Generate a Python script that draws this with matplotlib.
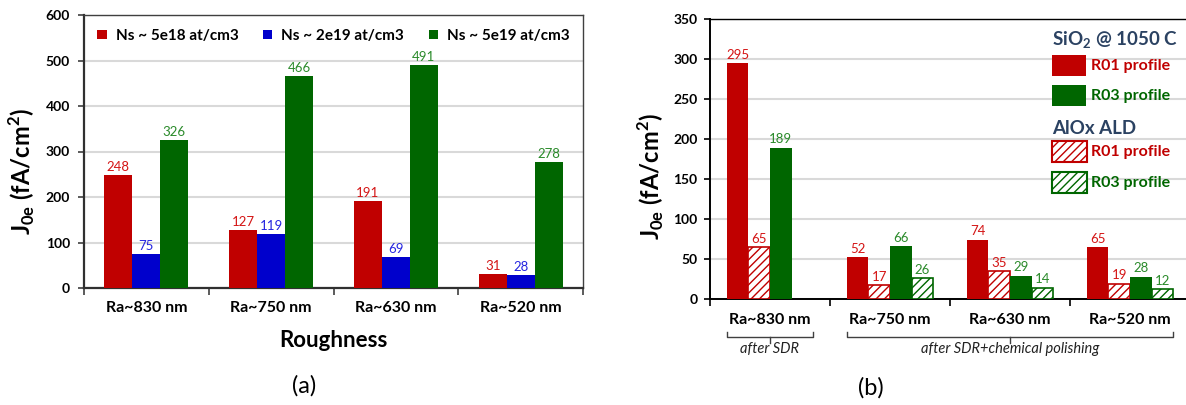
import numpy as np
import matplotlib
matplotlib.use('Agg')
import matplotlib.pyplot as plt
import matplotlib.transforms as mtransforms
from matplotlib.patches import Rectangle

plt.rcParams['font.family'] = ['Lato', 'DejaVu Sans']
plt.rcParams['mathtext.fontset'] = 'custom'
plt.rcParams['mathtext.bf'] = 'Lato:bold'
plt.rcParams['mathtext.rm'] = 'Lato'
plt.rcParams['hatch.linewidth'] = 1.0

roughness = ['Ra~830 nm', 'Ra~750 nm', 'Ra~630 nm', 'Ra~520 nm']

# (a) J0e vs surface doping
ns_labels = ['Ns ~ 5e18 at/cm3', 'Ns ~ 2e19 at/cm3', 'Ns ~ 5e19 at/cm3']
ns_5e18 = [248, 127, 191, 31]
ns_2e19 = [75, 119, 69, 28]
ns_5e19 = [326, 466, 491, 278]

# (b) SiO2 vs AlOx passivation
sio2_r01 = [295, 52, 74, 65]
alox_r01 = [65, 17, 35, 19]
sio2_r03 = [189, 66, 29, 28]
alox_r03 = [np.nan, 26, 14, 12]

RED = '#C00000'
BLUE = '#0000CC'
GREEN = '#006600'
GRID = '#D9D9D9'

W, H = 1186, 405


def px(x, y):
    return x / W, 1 - y / H


fig = plt.figure(figsize=(W / 100, H / 100), dpi=100)
ylab = r'J$_{\mathbf{0e}}$ (fA/cm$^{\mathbf{2}}$)'

# ---------------- panel (a) ----------------
ax1 = fig.add_axes([84 / W, 1 - 288 / H, 499 / W, 273 / H])
x = np.arange(len(roughness))
w = 0.224
series_a = [ns_5e18, ns_2e19, ns_5e19]
cols_a = [RED, BLUE, GREEN]
txt_a = ['#D41515', '#2424E0', '#2A8A2A']
for i in range(3):
    bars = ax1.bar(x + (i - 1) * w, series_a[i], w, color=cols_a[i],
                   label=ns_labels[i], zorder=3, linewidth=0)
    for b, v in zip(bars, series_a[i]):
        ax1.text(b.get_x() + b.get_width() / 2, v + 4, str(v), ha='center',
                 va='bottom', color=txt_a[i], fontsize=9.5)

ax1.set_ylim(0, 600)
ax1.set_yticks(np.arange(0, 601, 100))
ax1.set_xlim(-0.5, 3.5)
ax1.set_xticks(np.arange(-0.5, 4, 1))
ax1.set_xticklabels([])
ax1.set_xticks(x, minor=True)
ax1.set_xticklabels(roughness, minor=True, fontweight='bold', fontsize=11.5)
ax1.tick_params(axis='x', which='minor', length=0, pad=9)
ax1.tick_params(axis='x', which='major', length=5, width=1.2, color='#404040')
ax1.tick_params(axis='y', length=4, width=1.2, pad=6, labelsize=10, color='#404040')
for t in ax1.get_yticklabels():
    t.set_fontweight('bold')
ax1.yaxis.grid(True, color=GRID, lw=1.5)
ax1.set_axisbelow(True)
for s in ['left', 'bottom']:
    ax1.spines[s].set_linewidth(1.6)
    ax1.spines[s].set_color('#303030')
for s in ['top', 'right']:
    ax1.spines[s].set_linewidth(1.0)
    ax1.spines[s].set_color('#404040')

fig.text(*px(22, 172), ylab, rotation=90, ha='center', va='center',
         fontsize=17, fontweight='bold')
ax1.set_xlabel('Roughness', fontsize=16, fontweight='bold')
ax1.xaxis.set_label_coords(0.5, -0.155)

ax1.legend(loc='upper center', bbox_to_anchor=(0.5, 1.0), ncol=3, frameon=False,
           handlelength=0.6, handleheight=0.6, handletextpad=0.6, columnspacing=1.6,
           prop={'weight': 'bold', 'size': 11})

fig.text(*px(304, 386), '(a)', ha='center', va='center', fontsize=17)

# ---------------- panel (b) ----------------
ax2 = fig.add_axes([710 / W, 1 - 299 / H, 480 / W, 280 / H])
w2 = 0.18
series_b = [(sio2_r01, RED, False), (alox_r01, RED, True),
            (sio2_r03, GREEN, False), (alox_r03, GREEN, True)]
txt_b = {RED: '#D41515', GREEN: '#2A8A2A'}
for i, (vals, c, hatched) in enumerate(series_b):
    xs = x + (i - 1.5) * w2
    if hatched:
        bars = ax2.bar(xs, vals, w2, color='white', edgecolor=c, hatch='////',
                       linewidth=1.2, zorder=3)
    else:
        bars = ax2.bar(xs, vals, w2, color=c, linewidth=0, zorder=3)
    for b, v in zip(bars, vals):
        if np.isnan(v):
            continue
        ax2.text(b.get_x() + b.get_width() / 2, v + 3, str(int(v)), ha='center',
                 va='bottom', color=txt_b[c], fontsize=9.5)

ax2.set_ylim(0, 350)
ax2.set_yticks(np.arange(0, 351, 50))
ax2.set_xlim(-0.5, 3.5)
ax2.set_xticks(np.arange(-0.5, 4, 1))
ax2.set_xticklabels([])
ax2.set_xticks(x, minor=True)
ax2.set_xticklabels(roughness, minor=True, fontweight='bold', fontsize=11.5)
ax2.tick_params(axis='x', which='minor', length=0, pad=10)
ax2.tick_params(axis='x', which='major', length=5, width=1.2)
ax2.tick_params(axis='y', length=4, width=1.2, pad=5, labelsize=10)
for t in ax2.get_yticklabels():
    t.set_fontweight('bold')
ax2.yaxis.grid(True, color=GRID, lw=1.5)
ax2.set_axisbelow(True)
ax2.spines['left'].set_linewidth(1.4)
ax2.spines['bottom'].set_linewidth(1.4)
ax2.spines['top'].set_linewidth(1.0)
ax2.spines['right'].set_visible(False)

fig.text(*px(651, 177), ylab, rotation=90, ha='center', va='center',
         fontsize=17, fontweight='bold')

# braces under the groups
tr = mtransforms.blended_transform_factory(ax2.transData, ax2.transAxes)
for x0, x1, label in [(-0.36, 0.36, 'after SDR'), (0.64, 3.36, 'after SDR+chemical polishing')]:
    xc = (x0 + x1) / 2
    ax2.plot([x0, x0, x1, x1], [-0.118, -0.136, -0.136, -0.118], color='#404040',
             lw=1.0, transform=tr, clip_on=False)
    ax2.plot([xc, xc], [-0.136, -0.157], color='#404040', lw=1.0, transform=tr, clip_on=False)
    ax2.text(xc, -0.178, label, transform=tr, ha='center', va='center',
             fontsize=10.5, style='italic', color='#222222')

fig.text(*px(871, 388), '(b)', ha='center', va='center', fontsize=17)

# custom legend
NAVY = '#2B4262'
fig.text(*px(1052, 40), r'SiO$_{\mathbf{2}}$ @ 1050 C', ha='left', va='center',
         fontsize=13.5, fontweight='bold', color=NAVY)
fig.text(*px(1052, 128), 'AlOx ALD', ha='left', va='center',
         fontsize=13.5, fontweight='bold', color=NAVY)
legend_items = [(55, RED, False, 'R01 profile'), (85, GREEN, False, 'R03 profile'),
                (141, RED, True, 'R01 profile'), (172, GREEN, True, 'R03 profile')]
for ytop, c, hatched, lab in legend_items:
    x0, y0 = px(1052, ytop + 21)
    if hatched:
        r = Rectangle((x0, y0), 35 / W, 21 / H, facecolor='white', edgecolor=c,
                      hatch='////', linewidth=1.5, transform=fig.transFigure)
    else:
        r = Rectangle((x0, y0), 34 / W, 21 / H, facecolor=c, edgecolor='none',
                      transform=fig.transFigure)
    fig.add_artist(r)
    fig.text(*px(1091, ytop + 11), lab, ha='left', va='center', fontsize=11.5,
             fontweight='bold', color=c)

fig.savefig('out.png', dpi=100)
